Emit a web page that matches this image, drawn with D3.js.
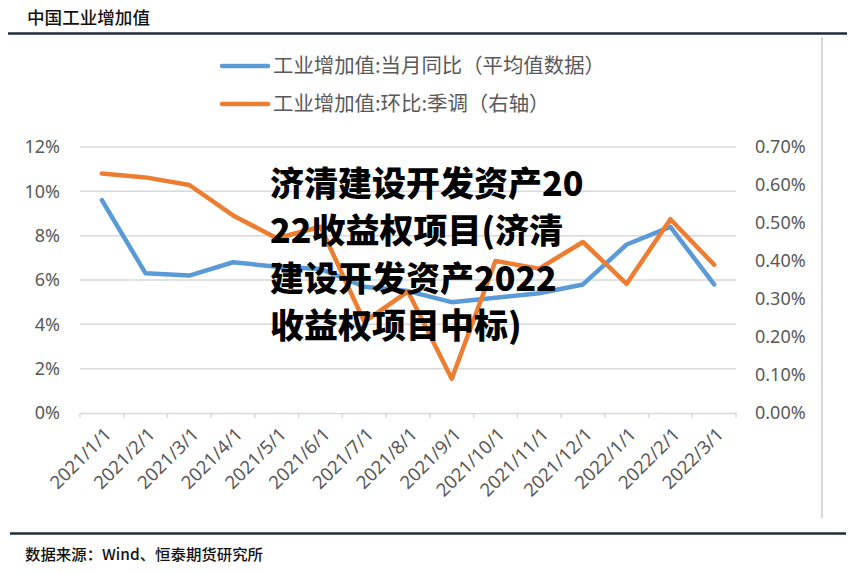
<!DOCTYPE html>
<html>
<head>
<meta charset="utf-8">
<script src="https://cdn.jsdelivr.net/npm/d3@7"></script>
<style>
  html, body { margin: 0; padding: 0; background: #fff; }
  svg { display: block; }
</style>
</head>
<body>
<svg id="chart" width="859" height="573"></svg>
<script>
const categories = ["2021/1/1","2021/2/1","2021/3/1","2021/4/1","2021/5/1","2021/6/1","2021/7/1","2021/8/1","2021/9/1","2021/10/1","2021/11/1","2021/12/1","2022/1/1","2022/2/1","2022/3/1"];
const yoyValues = [9.6, 6.3, 6.2, 6.8, 6.6, 6.5, 5.7, 5.5, 5.0, 5.2, 5.4, 5.8, 7.6, 8.4, 5.8];
const momValues = [0.63, 0.62, 0.60, 0.52, 0.46, 0.49, 0.24, 0.32, 0.09, 0.40, 0.38, 0.45, 0.34, 0.51, 0.39];
const leftTicks = [0, 2, 4, 6, 8, 10, 12];
const rightTicks = [0, 0.1, 0.2, 0.3, 0.4, 0.5, 0.6, 0.7];
const seriesNames = ["工业增加值:当月同比（平均值数据）", "工业增加值:环比:季调（右轴）"];
const titleText = "中国工业增加值";
const sourceText = "数据来源：Wind、恒泰期货研究所";
const overlayLines = ["济清建设开发资产20", "22收益权项目(济清", "建设开发资产2022", "收益权项目中标)"];

const svg = d3.select("#chart");
const X0 = 80, X1 = 736, Y0 = 413, Y1 = 147;
const blue = "#5b9bd5", orange = "#ed7d31", grid = "#d9d9d9", txt = "#595959";

// header
svg.append("text").attr("x", 27).attr("y", 24).text(titleText)
  .attr("font-family", "Noto Sans CJK SC").attr("font-size", 17).attr("font-weight", 500)
  .attr("fill", "#111").attr("textLength", 123).attr("lengthAdjust", "spacingAndGlyphs");
svg.append("line").attr("x1", 8).attr("x2", 847).attr("y1", 33.5).attr("y2", 33.5)
  .attr("stroke", "#1f2d3d").attr("stroke-width", 2.5);
svg.append("line").attr("x1", 822).attr("x2", 822).attr("y1", 37).attr("y2", 518)
  .attr("stroke", grid).attr("stroke-width", 2);
svg.append("line").attr("x1", 10).attr("x2", 846).attr("y1", 533.5).attr("y2", 533.5)
  .attr("stroke", "#1f2d3d").attr("stroke-width", 2.5);
svg.append("text").attr("x", 25).attr("y", 560).text(sourceText)
  .attr("font-family", "Noto Sans CJK SC").attr("font-size", 15).attr("font-weight", 500)
  .attr("fill", "#111").attr("textLength", 238).attr("lengthAdjust", "spacingAndGlyphs");

// scales
const x = d3.scaleBand().domain(categories).range([X0, X1]).padding(0);
const yL = d3.scaleLinear().domain([0, 12]).range([Y0, Y1]);
const yR = d3.scaleLinear().domain([0, 0.7]).range([Y0, Y1]);
const cx = d => x(d) + x.bandwidth() / 2;

// gridlines
svg.append("g").selectAll("line").data(leftTicks.filter(t => t > 0)).join("line")
  .attr("x1", X0).attr("x2", X1).attr("y1", d => yL(d)).attr("y2", d => yL(d))
  .attr("stroke", grid).attr("stroke-width", 1.5);

// left axis
const gL = svg.append("g").attr("transform", `translate(${X0 - 20},0)`)
  .call(d3.axisLeft(yL).tickValues(leftTicks).tickSize(0).tickPadding(0).tickFormat(d => d + "%"));
gL.select(".domain").remove();
gL.selectAll("text").attr("font-family", "Noto Sans").attr("font-size", 18).attr("fill", txt);

// right axis
const gR = svg.append("g").attr("transform", `translate(${X1 + 19},0)`)
  .call(d3.axisRight(yR).tickValues(rightTicks).tickSize(0).tickPadding(0).tickFormat(d => d3.format(".2f")(d) + "%"));
gR.select(".domain").remove();
gR.selectAll("text").attr("font-family", "Noto Sans").attr("font-size", 18).attr("fill", txt);

// x axis
const gX = svg.append("g").attr("transform", `translate(0,${Y0})`)
  .call(d3.axisBottom(x).tickSize(0).tickFormat(""));
gX.select(".domain").attr("stroke", grid).attr("stroke-width", 1.5);
gX.selectAll(".tick").remove();
svg.append("g").selectAll("line").data(categories.concat(["__end"])).join("line")
  .attr("x1", (d, i) => i < categories.length ? x(d) : X1)
  .attr("x2", (d, i) => i < categories.length ? x(d) : X1)
  .attr("y1", Y0).attr("y2", Y0 + 5).attr("stroke", grid).attr("stroke-width", 1.5);
svg.append("g").selectAll("text").data(categories).join("text")
  .attr("transform", d => `translate(${cx(d) + 6},${Y0 + 18}) rotate(-45)`)
  .attr("text-anchor", "end").attr("dy", "0.35em")
  .attr("font-family", "Noto Sans").attr("font-size", 18.5).attr("fill", txt)
  .text(d => d);

// lines
const lineL = d3.line().x((d, i) => cx(categories[i])).y(d => yL(d));
const lineR = d3.line().x((d, i) => cx(categories[i])).y(d => yR(d));
svg.append("path").datum(yoyValues).attr("d", lineL).attr("fill", "none")
  .attr("stroke", blue).attr("stroke-width", 4.5).attr("stroke-linejoin", "round").attr("stroke-linecap", "round");
svg.append("path").datum(momValues).attr("d", lineR).attr("fill", "none")
  .attr("stroke", orange).attr("stroke-width", 4.5).attr("stroke-linejoin", "round").attr("stroke-linecap", "round");

// legend
const legY = [66, 104];
const legColors = [blue, orange];
const leg = svg.append("g").selectAll("g").data(seriesNames).join("g");
leg.append("line").attr("x1", 222).attr("x2", 268).attr("y1", (d, i) => legY[i]).attr("y2", (d, i) => legY[i])
  .attr("stroke", (d, i) => legColors[i]).attr("stroke-width", 4.5).attr("stroke-linecap", "round");
leg.append("text").attr("x", 273).attr("y", (d, i) => legY[i]).attr("dy", "0.36em")
  .attr("font-family", "Noto Sans CJK SC").attr("font-size", 20.4).attr("fill", txt).text(d => d);

// overlay text
svg.append("g").selectAll("text").data(overlayLines).join("text")
  .attr("x", 270).attr("y", (d, i) => 196 + i * 47.3)
  .attr("font-family", "Noto Sans CJK SC").attr("font-size", 34).attr("font-weight", 900)
  .attr("fill", "#000").text(d => d);
</script>
</body>
</html>
